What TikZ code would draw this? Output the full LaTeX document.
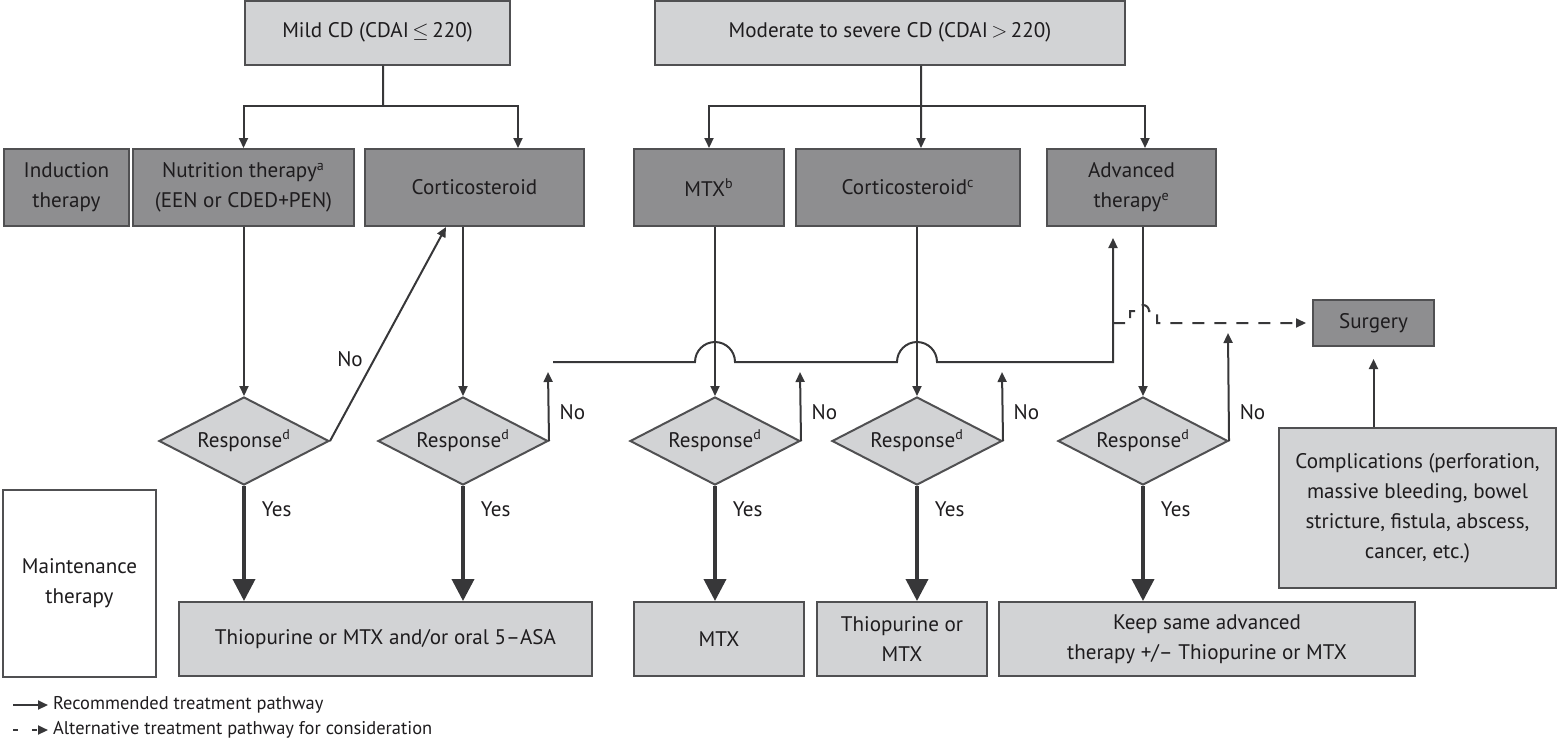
\documentclass[tikz,border=0pt]{standalone}
\usepackage{fontspec}
\setmainfont{PT Sans}
\usetikzlibrary{arrows.meta,shapes.geometric}
\definecolor{edgegray}{RGB}{80,80,82}
\definecolor{linegray}{RGB}{55,55,57}
\definecolor{darkfill}{RGB}{142,142,144}
\definecolor{lightfill}{RGB}{210,211,213}
\definecolor{textgray}{RGB}{30,28,30}

\begin{document}
\begin{tikzpicture}
[x=0.2mm,y=-0.2mm,
 every node/.style={font=\fontsize{12}{17}\selectfont,text=textgray,align=center},
 darkbox/.style={rectangle,draw=edgegray,line width=0.4mm,fill=darkfill,minimum height=15.4mm,inner sep=0pt},
 lightbox/.style={rectangle,draw=edgegray,line width=0.4mm,fill=lightfill,minimum height=14.8mm,inner sep=0pt},
 whitebox/.style={rectangle,draw=edgegray,line width=0.4mm,fill=white,inner sep=0pt},
 resp/.style={diamond,aspect=2,draw=edgegray,line width=0.4mm,fill=lightfill,minimum width=34mm,minimum height=17.6mm,inner sep=0pt},
 plain/.style={draw=linegray,line width=0.4mm},
 arr/.style={plain,-{Triangle[length=2mm,width=1.8mm]}},
 yesarr/.style={draw=linegray,line width=0.75mm,-{Triangle[length=4.4mm,width=4.4mm]}},
 dasharr/.style={arr,dash pattern=on 2.4mm off 2mm},
 lbl/.style={inner sep=0pt},
 leglbl/.style={inner sep=0pt,font=\fontsize{10.5}{12}\selectfont}]
\useasboundingbox (0,0) rectangle (1557,741);

% severity
\node[lightbox,minimum width=53mm,minimum height=12.8mm] (mild) at (377.5,32.5) {Mild CD (CDAI\,$\leq$\,220)};
\node[lightbox,minimum width=94mm,minimum height=12.8mm] (moderate) at (890,32.5) {Moderate to severe CD (CDAI\,$>$\,220)};

% induction row
\node[darkbox,minimum width=25mm] (induction) at (66.5,187.5) {Induction\\therapy};
\node[darkbox,minimum width=44.2mm] (nutrition) at (243.5,187.5) {Nutrition therapy\textsuperscript{a}\\(EEN or CDED+PEN)};
\node[darkbox,minimum width=43.8mm] (cortico) at (474.5,187.5) {Corticosteroid};
\node[darkbox,minimum width=30mm] (mtx) at (709,187.5) {MTX\textsuperscript{b}};
\node[darkbox,minimum width=44.8mm] (corticoc) at (908,187.5) {Corticosteroid\textsuperscript{c}};
\node[darkbox,minimum width=33.8mm] (advanced) at (1131.5,187.5) {Advanced\\therapy\textsuperscript{e}};

% response checks
\node[resp] (resp1) at (244,441) {Response\textsuperscript{d}};
\node[resp] (resp2) at (463,441) {Response\textsuperscript{d}};
\node[resp] (resp3) at (715,441) {Response\textsuperscript{d}};
\node[resp] (resp4) at (917,441) {Response\textsuperscript{d}};
\node[resp] (resp5) at (1143,441) {Response\textsuperscript{d}};

% maintenance row
\node[whitebox,minimum width=30.6mm,minimum height=37.4mm] (maint) at (79.5,583.5) {Maintenance\\therapy};
\node[lightbox,minimum width=82.6mm] (thio) at (385.5,639) {Thiopurine or MTX and/or oral 5--ASA};
\node[lightbox,minimum width=34mm] (mtxkeep) at (719,639) {MTX};
\node[lightbox,minimum width=34mm] (thiokeep) at (902,639) {Thiopurine or\\MTX};
\node[lightbox,minimum width=83.2mm] (advkeep) at (1207,639) {Keep same advanced\\therapy +/-- Thiopurine or MTX};

% surgery
\node[darkbox,minimum width=24.2mm,minimum height=9.2mm] (surgery) at (1373.5,323) {Surgery};
\node[lightbox,minimum width=55.4mm,minimum height=32mm] (compl) at (1417.5,508) {Complications (perforation,\\massive bleeding, bowel\\stricture, fistula, abscess,\\cancer, etc.)};

% top branches
\coordinate (mildbus) at (383,106);
\coordinate (modbus) at (921,106);
\draw[plain] ([xshift=1.1mm]mild.south) -- (mildbus);
\draw[arr] (mildbus) -| (nutrition.north);
\draw[arr] (mildbus) -| ([xshift=8.7mm]cortico.north);
\draw[plain] ([xshift=6.2mm]moderate.south) -- (modbus);
\draw[arr] (modbus) -| (mtx.north);
\draw[arr] (modbus) -- ([xshift=2.6mm]corticoc.north);
\draw[arr] (modbus) -| ([xshift=2.7mm]advanced.north);

% into response
\draw[arr] (nutrition.south -| resp1.north) -- (resp1.north);
\draw[arr] (cortico.south -| resp2.north) -- (resp2.north);
\draw[arr] (mtx.south -| resp3.north) -- (resp3.north);
\draw[arr] (corticoc.south -| resp4.north) -- (resp4.north);
\draw[arr] (advanced.south -| resp5.north) -- (resp5.north);

% yes
\foreach \r/\b in {resp1/thio,resp2/thio,resp3/mtxkeep,resp4/thiokeep,resp5/advkeep}
  \draw[yesarr] (\r.south) -- (\b.north -| \r.south) node[lbl,pos=0.2,anchor=west,xshift=3.2mm] {Yes};

% no
\draw[arr] (resp1.east) -- ([xshift=-5.7mm]cortico.south);
\node[lbl] (no1) at (350,359) {No};
\coordinate (noend2) at (548,372);
\coordinate (noend3) at (800,372);
\coordinate (noend4) at (1002,372);
\coordinate (noend5) at (1228,333);
\foreach \i/\p in {2/0.42,3/0.42,4/0.42,5/0.27}
  \draw[arr] (resp\i.east) -- (noend\i) node[lbl,pos=\p,anchor=west,xshift=2mm] {No};

\coordinate (nobus) at (553,362);
\draw[arr,shorten >=2.2mm] (nobus) -- (695,362) arc[start angle=180,end angle=0,radius=4mm]
  -- (897,362) arc[start angle=180,end angle=0,radius=4mm] -| ([xshift=-3.7mm]advanced.south);

\coordinate (split) at (1113,323);
\draw[dasharr,shorten >=1.2mm] (split) -- (1130,323) -- (1130,311) -- (1137,311)
  arc[start angle=180,end angle=0,radius=1.2mm] -- (1157,311) -- (1157,323) -- (surgery.west);
\draw[arr,shorten >=2.4mm] (compl.north -| surgery.south) -- (surgery.south);

% legend
\coordinate (leg1a) at (13,705);
\coordinate (leg1b) at (48,705);
\coordinate (leg2a) at (13,730);
\coordinate (leg2b) at (48,730);
\draw[arr] (leg1a) -- (leg1b) node[leglbl,anchor=west,xshift=0.8mm] {Recommended treatment pathway};
\draw[arr,dash pattern=on 1mm off 2.8mm] (leg2a) -- (leg2b) node[leglbl,anchor=west,xshift=0.8mm] {Alternative treatment pathway for consideration};
\end{tikzpicture}
\end{document}
